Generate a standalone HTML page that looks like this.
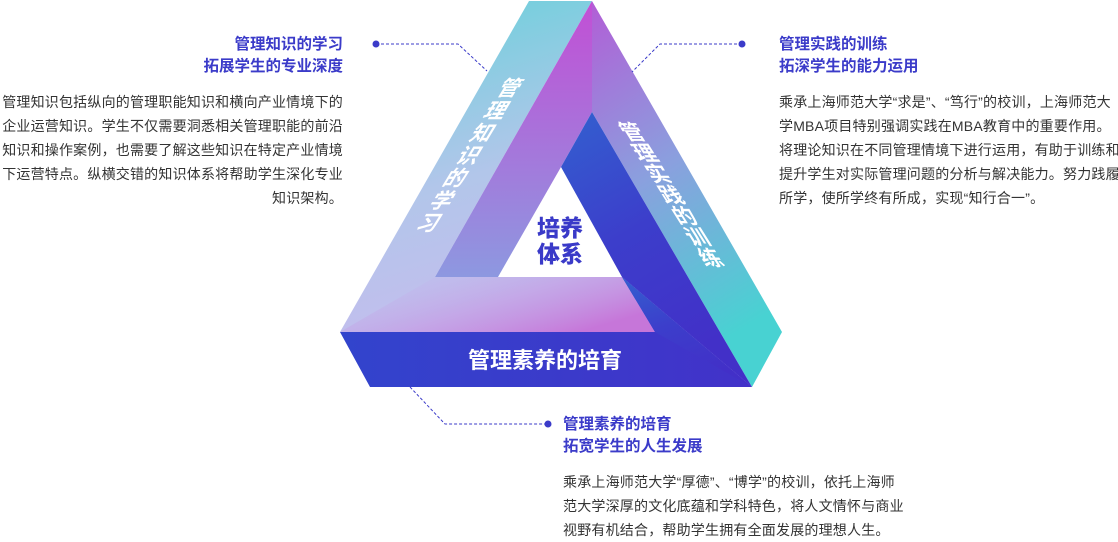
<!DOCTYPE html>
<html><head><meta charset="utf-8">
<style>
html,body{margin:0;padding:0;background:#fff;}
body{width:1118px;height:538px;position:relative;overflow:hidden;font-family:"Liberation Sans","Noto Sans CJK SC",sans-serif;}
.t{position:absolute;color:#3b3bc9;font-weight:bold;font-size:15.5px;line-height:22px;white-space:nowrap;}
.b{position:absolute;color:#333;font-size:14px;letter-spacing:0.2px;line-height:24px;white-space:nowrap;}
svg{position:absolute;left:0;top:0;}
</style></head><body>
<svg width="1118" height="538" viewBox="0 0 1118 538">
<defs>
<linearGradient id="gA" x1="0" y1="0" x2="0.3" y2="1">
<stop offset="0" stop-color="#63d2d9"/><stop offset="0.6" stop-color="#b2c6ea"/><stop offset="1" stop-color="#c4bdee"/></linearGradient>
<linearGradient id="gA2" x1="0" y1="0" x2="1" y2="0.6">
<stop offset="0" stop-color="#c2c2ef" stop-opacity="0"/><stop offset="1" stop-color="#c676d9"/></linearGradient>
<linearGradient id="gB" x1="0" y1="0" x2="0" y2="1">
<stop offset="0" stop-color="#c24fd5"/><stop offset="1" stop-color="#8d98e0"/></linearGradient>
<linearGradient id="gC" x1="0" y1="0" x2="0.3" y2="1">
<stop offset="0" stop-color="#b25dd6"/><stop offset="0.5" stop-color="#8aa0de"/><stop offset="1" stop-color="#48d2d2"/></linearGradient>
<linearGradient id="gD" x1="0" y1="0" x2="0.4" y2="1">
<stop offset="0" stop-color="#3360cf"/><stop offset="0.5" stop-color="#3c3ecb"/><stop offset="1" stop-color="#4230c8"/></linearGradient>
<linearGradient id="gE" x1="0" y1="0" x2="1" y2="0">
<stop offset="0" stop-color="#3244cc"/><stop offset="1" stop-color="#4232c9"/></linearGradient>
</defs>
<polygon points="529,1 592,1 435,277 622,277 655,332 340,332" fill="url(#gA)"/>
<polygon points="435,277 622,277 655,332 340,332" fill="url(#gA2)"/>
<polygon points="592,1 592,112 561,167 498,277 435,277" fill="url(#gB)"/>
<polygon points="592,1 782,332 752,387 592,112" fill="url(#gC)"/>
<polygon points="592,112 752,387 622,277 561,167" fill="url(#gD)"/>
<polygon points="340,332 655,332 622,277 752,387 370,387" fill="url(#gE)"/>
<polygon points="622,277 752,387 655,332" fill="url(#gD)"/>
<g font-family="Liberation Sans,Noto Sans CJK SC,sans-serif" font-weight="bold" fill="#fff" font-size="21" text-anchor="middle" dominant-baseline="central">
<g transform="translate(510,88) skewX(-31)">
<text x="0" y="0">管</text><text x="0" y="22.5">理</text><text x="0" y="45">知</text><text x="0" y="67.5">识</text><text x="0" y="90">的</text><text x="0" y="112.5">学</text><text x="0" y="135">习</text>
</g>
<g transform="translate(632,132) skewX(32)">
<text x="0" y="0">管</text><text x="0" y="21">理</text><text x="0" y="42">实</text><text x="0" y="63">践</text><text x="0" y="84">的</text><text x="0" y="105">训</text><text x="0" y="126">练</text>
</g>
</g>
<g font-family="Liberation Sans,Noto Sans CJK SC,sans-serif" font-weight="bold" fill="#fff" font-size="22" text-anchor="middle">
<text x="545" y="368">管理素养的培育</text>
</g>
<g font-family="Liberation Sans,Noto Sans CJK SC,sans-serif" font-weight="900" fill="#3a3ac8" font-size="23" text-anchor="middle">
<text x="560" y="236">培养</text>
<text x="560" y="262">体系</text>
</g>
<g stroke="#3b3bc9" stroke-width="1" fill="none" stroke-dasharray="3,2">
<polyline points="376,44 458,44 487,71"/>
<polyline points="742,44 660,44 632,72"/>
<polyline points="410,387 445,424 548,424"/>
</g>
<g fill="#3b3bc9">
<circle cx="376" cy="44" r="3.5"/><circle cx="742" cy="44" r="3.5"/><circle cx="548" cy="424" r="3.5"/>
</g>
</svg>
<div class="t" style="right:775px;top:34px;text-align:right;">管理知识的学习<br>拓展学生的专业深度</div>
<div class="b" style="right:775px;top:90px;text-align:right;">管理知识包括纵向的管理职能知识和横向产业情境下的<br>企业运营知识。学生不仅需要洞悉相关管理职能的前沿<br>知识和操作案例，也需要了解这些知识在特定产业情境<br>下运营特点。纵横交错的知识体系将帮助学生深化专业<br>知识架构。</div>
<div class="t" style="left:779px;top:34px;">管理实践的训练<br>拓深学生的能力运用</div>
<div class="b" style="left:779px;top:90px;">乘承上海师范大学“求是”、“笃行”的校训，上海师范大<br>学MBA项目特别强调实践在MBA教育中的重要作用。<br>将理论知识在不同管理情境下进行运用，有助于训练和<br>提升学生对实际管理问题的分析与解决能力。努力践履<br>所学，使所学终有所成，实现“知行合一”。</div>
<div class="t" style="left:563px;top:414px;">管理素养的培育<br>拓宽学生的人生发展</div>
<div class="b" style="left:563px;top:470px;">乘承上海师范大学“厚德”、“博学”的校训，依托上海师<br>范大学深厚的文化底蕴和学科特色，将人文情怀与商业<br>视野有机结合，帮助学生拥有全面发展的理想人生。</div>
</body></html>
